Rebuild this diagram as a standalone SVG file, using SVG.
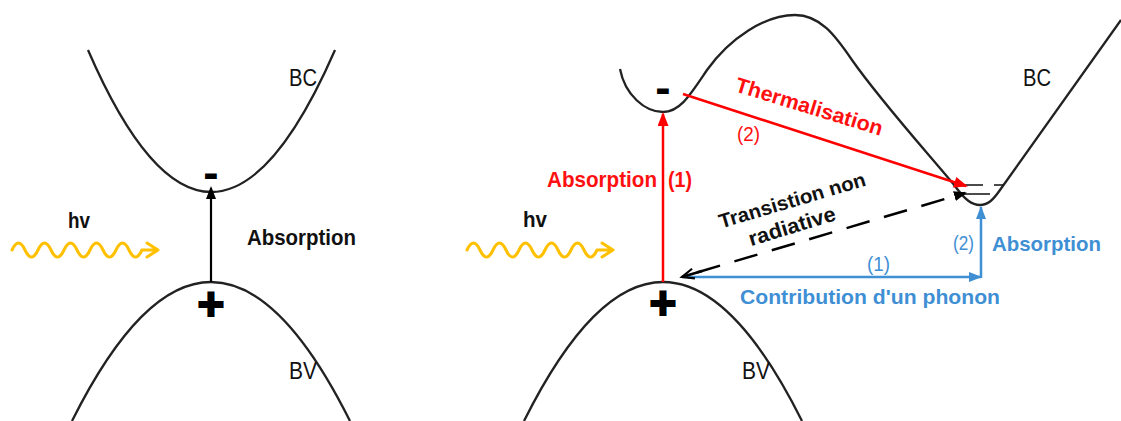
<svg xmlns="http://www.w3.org/2000/svg" width="1121" height="421" viewBox="0 0 1121 421">
  <style>
    .band{fill:none;stroke:#222;stroke-width:2.3}
    .lbl{font-family:"Liberation Sans",Arial,sans-serif;font-size:24px;fill:#111}
    .bold{font-family:"Liberation Sans",Arial,sans-serif;font-weight:bold;fill:#111}
    .sign{font-family:"Liberation Sans",Arial,sans-serif;font-weight:bold;font-size:46px;fill:#000;text-anchor:middle}
    .plus{stroke:#000;stroke-width:2}
    .wave{fill:none;stroke:#FFC000;stroke-width:3;stroke-linecap:round;stroke-linejoin:round}
    .red{fill:#FF1010}
    .blue{fill:#3F8FD5}
  </style>
  <defs>
    <marker id="ahBlack" markerUnits="userSpaceOnUse" markerWidth="14" markerHeight="12" refX="11" refY="5" orient="auto">
      <path d="M0,0 L13,5 L0,10 z" fill="#000"/>
    </marker>
    <marker id="ahRed" markerUnits="userSpaceOnUse" markerWidth="16" markerHeight="12" refX="12" refY="5.5" orient="auto">
      <path d="M0,0 L14,5.5 L0,11 z" fill="#FF0000"/>
    </marker>
    <marker id="ahBlue" markerUnits="userSpaceOnUse" markerWidth="16" markerHeight="12" refX="12" refY="5" orient="auto">
      <path d="M0,0 L13,5 L0,10 z" fill="#3F8FD5"/>
    </marker>
    <marker id="ahOpen" markerUnits="userSpaceOnUse" markerWidth="18" markerHeight="14" refX="13" refY="6" orient="auto">
      <path d="M1,1 L13,6 L1,11" fill="none" stroke="#000" stroke-width="2.2"/>
    </marker>
    <path id="wv" d="M12,250 q6.5,-14 13,0 t13,0 t13,0 t13,0 t13,0 t13,0 t13,0 t13,0 t13,0 t13,0 L157,250 M147,243 L158,250 L147,257"/>
  </defs>

  <!-- Left diagram -->
  <g id="left-bc">
    <path class="band" d="M88,50 Q211,334 335,50"/>
    <text class="lbl" x="289" y="86" textLength="28" lengthAdjust="spacingAndGlyphs">BC</text>
  </g>
  <g id="left-bv">
    <path class="band" d="M72,421 Q211,143 350,421"/>
    <text class="lbl" x="289" y="379" textLength="28" lengthAdjust="spacingAndGlyphs">BV</text>
  </g>
  <g id="left-electron">
    <text class="sign" x="211" y="188">-</text>
  </g>
  <g id="left-hole">
    <text class="sign plus" x="211" y="320">+</text>
  </g>
  <g id="left-photon">
    <use href="#wv" class="wave"/>
    <text class="bold" font-size="22" x="68" y="228" textLength="22" lengthAdjust="spacingAndGlyphs">hv</text>
  </g>
  <g id="left-absorption-label">
    <text class="bold" font-size="22" x="247" y="245" textLength="109" lengthAdjust="spacingAndGlyphs">Absorption</text>
  </g>

  <!-- Right diagram -->
  <g id="right-bc">
    <path class="band" d="M620,69 C625,95 645,112 663,112 C680,112 690,95 707,70 C730,38 765,15 795,15 C820,15 835,35 852,60 C880,100 925,150 955,186 C965,200 972,205 980,205 C988,205 993,200 1000,190 L1121,20"/>
    <text class="lbl" x="1023" y="86" textLength="28" lengthAdjust="spacingAndGlyphs">BC</text>
  </g>
  <g id="right-bv">
    <path class="band" d="M524,421 Q663,143 802,421"/>
    <text class="lbl" x="742" y="379" textLength="28" lengthAdjust="spacingAndGlyphs">BV</text>
  </g>
  <g id="right-electron">
    <text class="sign" x="663" y="103">-</text>
  </g>
  <g id="right-hole">
    <text class="sign plus" x="663" y="319">+</text>
  </g>
  <g id="right-photon">
    <use href="#wv" class="wave" transform="translate(455,0)"/>
    <text class="bold" font-size="22" x="523" y="227" textLength="24" lengthAdjust="spacingAndGlyphs">hv</text>
  </g>
  <g id="energy-levels">
    <path d="M965,185 H983 M994,185 H1003 M962,194 H990" stroke="#111" stroke-width="1.6" fill="none"/>
  </g>

  <!-- Connectors -->
  <g id="connectors" fill="none">
    <line x1="211" y1="282" x2="211" y2="188" stroke="#000" stroke-width="2.2" marker-end="url(#ahBlack)"/>
    <line x1="663" y1="282" x2="663" y2="114" stroke="#FF0000" stroke-width="2.5" marker-end="url(#ahRed)"/>
    <line x1="683" y1="94" x2="966" y2="186" stroke="#FF0000" stroke-width="2.5" marker-end="url(#ahRed)"/>
    <line x1="683" y1="277" x2="981" y2="277" stroke="#3F8FD5" stroke-width="2.5" marker-end="url(#ahBlue)"/>
    <line x1="981" y1="278" x2="981" y2="207" stroke="#3F8FD5" stroke-width="2.5" marker-end="url(#ahBlue)"/>
    <line x1="697" y1="272.5" x2="965" y2="193" stroke="#000" stroke-width="2.5" stroke-dasharray="24 15" marker-end="url(#ahBlack)"/>
    <line x1="702" y1="271" x2="682" y2="277" stroke="#000" stroke-width="2.4" marker-end="url(#ahOpen)"/>
  </g>

  <!-- Connector labels -->
  <g id="label-absorption-1">
    <text class="bold red" font-size="22" y="187"><tspan x="547" textLength="110" lengthAdjust="spacingAndGlyphs">Absorption</tspan><tspan x="668" textLength="24" lengthAdjust="spacingAndGlyphs">(1)</tspan></text>
  </g>
  <g id="label-thermalisation">
    <text class="bold red" font-size="21" x="734" y="91" transform="rotate(17 734 91)" textLength="153" lengthAdjust="spacingAndGlyphs">Thermalisation</text>
    <text class="red" font-family="Liberation Sans, Arial, sans-serif" font-size="20" x="737" y="141" textLength="23" lengthAdjust="spacingAndGlyphs">(2)</text>
  </g>
  <g id="label-non-radiative">
    <text class="bold" font-size="20" text-anchor="middle" x="794" y="207" transform="rotate(-16.5 794 207)" textLength="152" lengthAdjust="spacingAndGlyphs">Transistion non</text>
    <text class="bold" font-size="21" text-anchor="middle" x="794" y="233" transform="rotate(-17 794 233)" textLength="90" lengthAdjust="spacingAndGlyphs">radiative</text>
  </g>
  <g id="label-phonon">
    <text class="blue" font-family="Liberation Sans, Arial, sans-serif" font-size="20" x="867" y="271" textLength="23" lengthAdjust="spacingAndGlyphs">(1)</text>
    <text class="bold blue" font-size="21" x="740" y="304" textLength="260" lengthAdjust="spacingAndGlyphs">Contribution d'un phonon</text>
  </g>
  <g id="label-absorption-2">
    <text class="blue" font-family="Liberation Sans, Arial, sans-serif" font-size="20" x="953" y="250" textLength="21" lengthAdjust="spacingAndGlyphs">(2)</text>
    <text class="bold blue" font-size="21" x="992" y="251" textLength="109" lengthAdjust="spacingAndGlyphs">Absorption</text>
  </g>
</svg>
